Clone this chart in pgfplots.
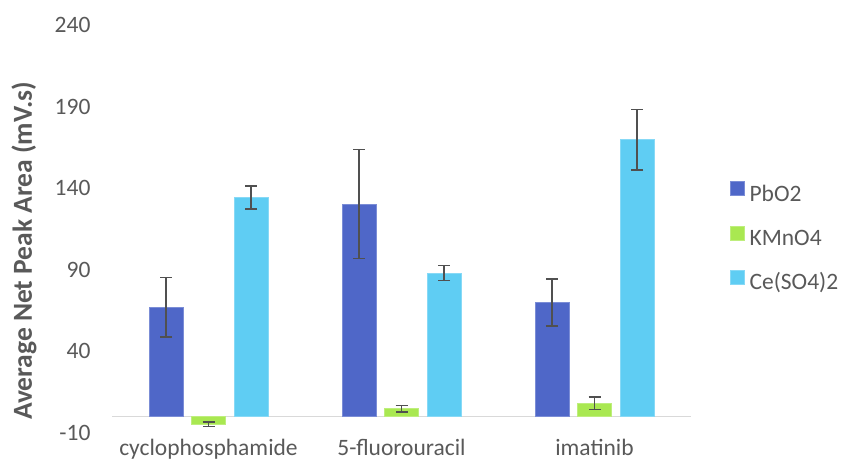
\documentclass[border=0pt]{standalone}
\usepackage{pgfplots}
\usepackage{pgfplotstable}
\pgfplotsset{compat=1.18}
\usepackage{fontspec}
\setmainfont{Carlito}
\definecolor{txt}{HTML}{595959}
\definecolor{cPb}{HTML}{4F67C8}
\definecolor{cKM}{HTML}{A9E851}
\definecolor{cCe}{HTML}{5FCDF3}
\definecolor{errc}{HTML}{505050}
\definecolor{axc}{HTML}{D9D9D9}

\pgfplotstableread{
x y e
0 67.2 18.2
1 130.3 33.4
2 69.9 14.3
}\pbo
\pgfplotstableread{
x y e
0 -4.5 1.4
1 4.9 1.9
2 8.2 3.9
}\kmno
\pgfplotstableread{
x y e
0 134.4 7.0
1 88.0 4.6
2 169.7 18.6
}\ceso

\begin{document}
\begin{tikzpicture}
\path[use as bounding box] (0,0) rectangle (841bp,461bp);
\begin{axis}[
  at={(112bp,28bp)}, anchor=south west,
  scale only axis, width=579bp, height=408bp,
  xmin=-0.5, xmax=2.5, ymin=-10, ymax=240,
  ytick={-10,40,90,140,190,240},
  xtick={0,1,2},
  xticklabels={cyclophosphamide,5-fluorouracil,imatinib},
  axis line style={draw=none},
  major tick length=0pt,
  /pgf/number format/assume math mode=true,
  tick label style={font=\fontsize{23.5bp}{26bp}\selectfont, text=txt},
  yticklabel style={xshift=-18bp},
  xticklabel style={inner sep=0pt, yshift=-5.5bp},
  extra y ticks={0},
  extra y tick labels={},
  extra y tick style={grid=major, major grid style={axc, line width=1.3bp}},
  ylabel={\bfseries Average Net Peak Area (mV.s)},
  every axis y label/.style={at={(axis description cs:-0.152,0.446)}, rotate=90, anchor=center, font=\fontsize{27.5bp}{30bp}\selectfont, text=txt},
  ybar=8.5bp, bar width=34bp,
  legend style={at={(axis description cs:1.067,0.478)}, anchor=west, draw=none, fill=none, inner sep=0pt,
    font=\fontsize{23.5bp}{26bp}\selectfont, text=txt,
    nodes={inner sep=0pt, text height=16bp, text depth=5bp},
    row sep=19.5bp, column sep=5bp},
  legend cell align=left,
  legend image code/.code={\fill[#1] (0bp,0bp) rectangle (14bp,14bp);},
]
\addplot[fill=cPb, draw=cPb!75!white, line width=0.6bp, error bars/.cd, y dir=both, y explicit, error bar style={color=errc, line width=1.6bp}, error mark options={rotate=90, mark size=6bp, line width=1.6bp, color=errc}] table[x=x, y=y, y error=e] {\pbo};
\addplot[fill=cKM, draw=cKM!75!white, line width=0.6bp, error bars/.cd, y dir=both, y explicit, error bar style={color=errc, line width=1.6bp}, error mark options={rotate=90, mark size=6bp, line width=1.6bp, color=errc}] table[x=x, y=y, y error=e] {\kmno};
\addplot[fill=cCe, draw=cCe!75!white, line width=0.6bp, error bars/.cd, y dir=both, y explicit, error bar style={color=errc, line width=1.6bp}, error mark options={rotate=90, mark size=6bp, line width=1.6bp, color=errc}] table[x=x, y=y, y error=e] {\ceso};
\legend{PbO2,KMnO4,Ce(SO4)2}
\end{axis}
\end{tikzpicture}
\end{document}
